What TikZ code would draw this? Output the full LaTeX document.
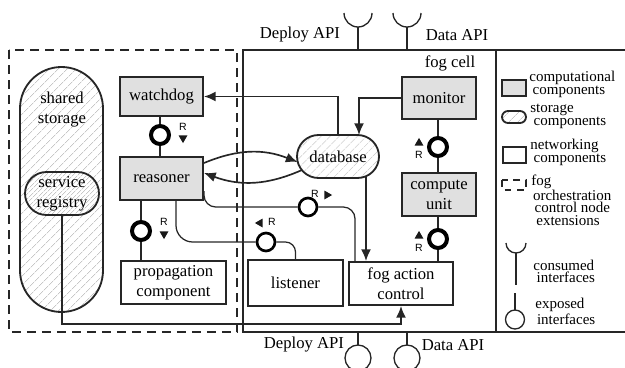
\documentclass[tikz,border=0pt]{standalone}
\usepackage{fontspec}
\setmainfont{Liberation Serif}
\setsansfont{Liberation Sans}
\usepackage{tikz}
\usetikzlibrary{shapes,arrows,arrows.meta,positioning,calc,patterns.meta}

\begin{document}
\begin{tikzpicture}[x=0.6pt,y=-0.6pt]
		\tikzstyle{Comp}	= [rectangle, draw=black!85, line width=1.2pt, fill=black!12, inner sep=0pt, align=center]
		\tikzstyle{Net}		= [rectangle, draw=black!85, line width=1.2pt, fill=white, inner sep=0pt, align=center]
		\tikzstyle{Store}	= [rounded rectangle, draw=black!85, line width=1.1pt, inner sep=0pt, align=center, pattern={Lines[angle=45,distance=4pt,line width=0.45pt]}, pattern color=black!22]
		\tikzstyle{Ball}	= [circle, draw=black, line width=2.4pt, fill=white, minimum size=10.8pt, inner sep=0pt]
		\tikzstyle{NetBall}	= [Ball, line width=1.6pt]
		\tikzstyle{Link}	= [draw=black!85, line width=1pt]
		\tikzstyle{Flow}	= [Link, -{Latex[length=7pt,width=6pt]}]
		\tikzstyle{Thin}	= [draw=black!85, line width=0.75pt]
		\tikzstyle{Tip}		= [isosceles triangle, isosceles triangle apex angle=60, fill=black!90, inner sep=0pt, minimum height=4.6pt]
		\tikzstyle{RLab}	= [font=\sffamily\fontsize{6.3}{7}\selectfont, inner sep=0pt]
		\tikzstyle{Legend}	= [align=left, anchor=west, inner sep=0pt, font=\fontsize{9}{7.5}\selectfont]
		\tikzstyle{Iface}	= [draw=black!85, line width=0.8pt]
		\tikzstyle{Orch}	= [draw=black!85, line width=1.2pt, dash pattern=on 5.4pt off 3.6pt]
		\tikzstyle{Cell}	= [draw=black!85, line width=1.2pt]

		\useasboundingbox (0,0) rectangle (625,367);

		% boxes
		\draw [Orch] (9,50) rectangle (237,332);
		\draw [Cell] (625,50) -- (243,50) -- (243,332) -- (625,332);
		\draw [Cell] (496,50) -- (496,332);

		% interfaces of the fog cell
		\foreach \x in {358,407} {
			\draw [Iface] (\x,50) -- (\x,27);
			\draw [Iface] (\x+14,13) arc [start angle=0, end angle=180, radius=14];
			\draw [Iface] (\x,332) -- (\x,345);
			\draw [Iface] (\x,358) circle [radius=13];
		}
		\node (deploytop) at (300,35) {Deploy API};
		\node (datatop) at (457,35) {Data API};
		\node (deploybot) at (304,345) {Deploy API};
		\node (databot) at (453,345) {Data API};
		\node (fogcell) at (450,63) {fog cell};

		% orchestration extensions
		\node (storage) at (61.5,189.5) [Store, rectangle, rounded corners=24.9pt, minimum width=49.8pt, minimum height=147pt] {};
		\node (storagetext) at (62,110) [align=center, inner sep=0pt] {shared\\storage};
		\node (registry) at (62,193.5) [Store, minimum width=44.4pt, minimum height=25.8pt] {service\\registry};
		\node (watchdog) at (161.5,96.5) [Comp, minimum width=49.8pt, minimum height=23.4pt] {watchdog};
		\node (reasoner) at (161.5,178.5) [Comp, minimum width=49.8pt, minimum height=25.8pt] {reasoner};
		\node (propagation) at (173.5,282.5) [Net, minimum width=63pt, minimum height=25.8pt] {propagation\\component};

		% fog cell
		\node (monitor) at (439,98) [Comp, minimum width=44.4pt, minimum height=25.2pt] {monitor};
		\node (compute) at (439,194.5) [Comp, minimum width=44.4pt, minimum height=25.8pt] {compute\\unit};
		\node (fac) at (401,283.5) [Net, minimum width=62.4pt, minimum height=25.8pt] {fog action\\control};
		\node (listener) at (295.5,283) [Net, minimum width=57pt, minimum height=27.6pt] {listener};
		\node (database) at (338,156.5) [Store, minimum width=49.2pt, minimum height=25.8pt] {database};

		% provided / required interfaces
		\node (wrball) at (160,135) [Ball] {};
		\node (rpball) at (141,231) [Ball] {};
		\node (mcball) at (438,147) [Ball] {};
		\node (cfball) at (438,239) [Ball] {};
		\node (rfball) at (308,207) [NetBall] {};
		\node (lball) at (266,242) [NetBall] {};

		\node (wrR) at (183,127) [RLab] {R};
		\node (wrT) at (183,138) [Tip, shape border rotate=-90] {};
		\node (rpR) at (164,222) [RLab] {R};
		\node (rpT) at (164,234) [Tip, shape border rotate=-90] {};
		\node (mcT) at (419,143) [Tip, shape border rotate=90] {};
		\node (mcR) at (419,155) [RLab] {R};
		\node (cfT) at (419,236) [Tip, shape border rotate=90] {};
		\node (cfR) at (419,248) [RLab] {R};
		\node (rfR) at (315,194) [RLab] {R};
		\node (rfT) at (327,195) [Tip] {};
		\node (lT) at (260,223) [Tip, shape border rotate=180] {};
		\node (lR) at (272,222) [RLab] {R};

		\coordinate (dbin) at (359,135);
		\coordinate (dbout) at (366,176.5);
		\coordinate (dbleftin) at (297.5,162);
		\coordinate (dbleftout) at (302,170);

		% connectors
		\draw [Link] (wrball |- watchdog.south) -- (wrball) -- (wrball |- reasoner.north);
		\draw [Link] (rpball |- reasoner.south) -- (rpball) -- (rpball |- propagation.north);
		\draw [Link] (mcball |- monitor.south) -- (mcball) -- (mcball |- compute.north);
		\draw [Link] (cfball |- compute.south) -- (cfball) -- (cfball |- fac.north);

		\draw [Flow] (database.north) |- (watchdog.east);
		\draw [Flow] (monitor.west) -| (dbin);
		\draw [Flow] (dbout) -- (dbout |- fac.north);
		\draw [Flow] ([yshift=9.3pt]reasoner.east) to [bend left=22] (dbleftin);
		\draw [Flow] (dbleftout) to [bend left=22] ([yshift=3.3pt]reasoner.east);

		\draw [Thin, rounded corners=7pt] ([yshift=6pt]reasoner.south east) |- (rfball);
		\draw [Thin, rounded corners=7pt] (rfball) -| ([xshift=-27.6pt]fac.north);
		\draw [Thin, rounded corners=10pt] ([xshift=8.7pt]reasoner.south) |- (lball);
		\draw [Thin, rounded corners=6pt] (lball) -| (listener.north);

		\draw [Flow] (registry.south) |- ([yshift=-10.8pt]fac.south) -- (fac.south);

		% legend
		\node (legcomp) at (514,88) [Comp, minimum width=14.4pt, minimum height=9.6pt] {};
		\node (legcompt) at (529,84.5) [Legend] {computational\\\hspace*{2pt}components};
		\node (legstore) at (514,117) [Store, minimum width=14.4pt, minimum height=7.2pt] {};
		\node (legstoret) at (530,116.5) [Legend] {storage\\\hspace*{2pt}components};
		\node (legnet) at (514.5,155) [Net, minimum width=13.8pt, minimum height=9.6pt] {};
		\node (legnett) at (530,152.5) [Legend] {networking\\\hspace*{2pt}components};
		\draw [Orch, line width=1pt, dash pattern=on 4pt off 3.5pt] (502,180) rectangle (526,190);
		\node (legorcht) at (531,200) [Legend] {fog\\\hspace*{1pt}orchestration\\\hspace*{2pt}control node\\\hspace*{3pt}extensions};
		\draw [Iface] (526,243) arc [start angle=0, end angle=180, radius=10];
		\draw [Iface] (516,253) -- (516,285);
		\node (legconst) at (533,271.5) [Legend] {consumed\\\hspace*{2pt}interfaces};
		\draw [Iface] (515,293) -- (515,310);
		\draw [Iface] (515,319.5) circle [radius=9.5];
		\node (legexpt) at (535,311.5) [Legend] {exposed\\\hspace*{1pt}interfaces};
	\end{tikzpicture}
\end{document}
